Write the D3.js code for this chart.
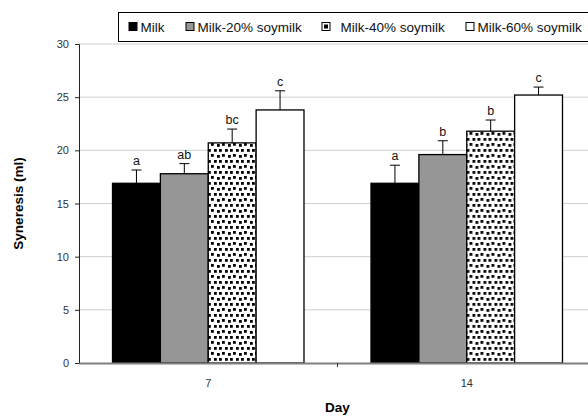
<!DOCTYPE html>
<html>
<head>
<meta charset="utf-8">
<script src="https://cdn.jsdelivr.net/npm/d3@7"></script>
<style>
body{margin:0;background:#fff}
svg{display:block;font-family:"Liberation Sans",Arial,sans-serif}
</style>
</head>
<body>
<div id="chart"></div>
<script>
var days = ['7','14']
var series = ['Milk','Milk-20% soymilk','Milk-40% soymilk','Milk-60% soymilk']
var means = [[16.9,17.8,20.7,23.8],[16.9,19.6,21.8,25.2]]
var errors = [[1.25,0.95,1.3,1.8],[1.7,1.3,1.05,0.75]]
var letters = [['a','ab','bc','c'],['a','b','b','c']]
var yTicks = [0,5,10,15,20,25,30]

var W = 588, H = 419
var m = {top:44, left:79, bottom:56}
var plotW = 517
var plotH = H - m.top - m.bottom

var svg = d3.select('#chart').append('svg').attr('width',W).attr('height',H)

var defs = svg.append('defs')
var pat = defs.append('pattern')
	.attr('id','dots')
	.attr('patternUnits','userSpaceOnUse')
	.attr('width',11).attr('height',11)
pat.append('rect').attr('width',11).attr('height',11).attr('fill','#fff')
;[[0,0],[6,1],[3,6],[8,6]].forEach(function(p){
	pat.append('rect').attr('x',p[0]).attr('y',p[1]).attr('width',2.8).attr('height',2.8).attr('fill','#000')
})
var fills = ['#000','#969696','url(#dots)','#fff']

var x = d3.scaleBand().domain(days).range([m.left, m.left+plotW])
var xs = d3.scaleBand().domain(series).range([0, x.bandwidth()]).paddingOuter(0.7).paddingInner(0)
var y = d3.scaleLinear().domain([0,30]).range([m.top+plotH, m.top])

// gridlines
svg.append('g').selectAll('line').data(yTicks.slice(1)).enter().append('line')
	.attr('x1',m.left).attr('x2',m.left+plotW)
	.attr('y1',function(d){return y(d)}).attr('y2',function(d){return y(d)})
	.attr('stroke','#cfcfcf').attr('stroke-width',1)

// y axis
var yAxis = svg.append('g')
	.attr('transform','translate('+m.left+',0)')
	.call(d3.axisLeft(y).tickValues(yTicks).tickSize(4).tickPadding(6))
yAxis.select('.domain').attr('stroke','#222')
yAxis.selectAll('.tick line').attr('stroke','#222')
yAxis.selectAll('text').attr('fill','#333').style('font-size','11px')

// bars
var groups = svg.append('g').selectAll('g').data(days).enter().append('g')
	.attr('transform',function(d){return 'translate('+x(d)+',0)'})

groups.each(function(day,gi){
	var g = d3.select(this)
	series.forEach(function(s,si){
		var v = means[gi][si], e = errors[gi][si]
		var cx = xs(s) + xs.bandwidth()/2
		g.append('line')
			.attr('x1',cx).attr('x2',cx)
			.attr('y1',y(v)).attr('y2',y(v+e))
			.attr('stroke','#000').attr('stroke-width',1)
		g.append('line')
			.attr('x1',cx-5).attr('x2',cx+5)
			.attr('y1',y(v+e)).attr('y2',y(v+e))
			.attr('stroke','#000').attr('stroke-width',1)
		g.append('rect')
			.attr('x',xs(s)).attr('y',y(v))
			.attr('width',xs.bandwidth()).attr('height',y(0)-y(v))
			.attr('fill',fills[si])
			.attr('stroke','#000').attr('stroke-width',1.3)
		g.append('text')
			.attr('x',cx).attr('y',y(v+e)-5)
			.attr('text-anchor','middle')
			.style('font-size','12.5px')
			.attr('fill','#111')
			.text(letters[gi][si])
	})
})

// x axis
var xAxis = svg.append('g')
	.attr('transform','translate(0,'+y(0)+')')
	.call(d3.axisBottom(x).tickSize(0).tickPadding(16))
xAxis.select('.domain').attr('stroke','#808080').attr('stroke-width',2)
xAxis.selectAll('text').attr('fill','#333').style('font-size','11px')
svg.append('line')
	.attr('x1',x('14')).attr('x2',x('14'))
	.attr('y1',y(0)).attr('y2',y(0)+4)
	.attr('stroke','#333')

// axis titles
svg.append('text')
	.attr('transform','translate(23,'+(m.top+plotH/2)+') rotate(-90)')
	.attr('text-anchor','middle')
	.style('font-size','13.5px').style('font-weight','bold')
	.text('Syneresis (ml)')
svg.append('text')
	.attr('x',x('14')).attr('y',412)
	.attr('text-anchor','middle')
	.style('font-size','13.5px').style('font-weight','bold')
	.text('Day')

// legend
svg.append('rect')
	.attr('x',118.5).attr('y',12.5).attr('width',480).attr('height',29)
	.attr('fill','#fff').attr('stroke','#000')
var leg = svg.append('g')
var legX = [129,186,322,466]
series.forEach(function(s,i){
	leg.append('rect')
		.attr('x',legX[i]).attr('y',22.5).attr('width',8).attr('height',8)
		.attr('fill',i===2 ? '#fff' : fills[i]).attr('stroke','#000').attr('stroke-width',1)
	if (i===2) {
		leg.append('rect').attr('x',legX[i]+2).attr('y',24.5).attr('width',4).attr('height',4).attr('fill','#000')
	}
	leg.append('text')
		.attr('x',legX[i]+ (i===2 ? 18.5 : 11.5)).attr('y',31.5)
		.style('font-size','13.5px').attr('fill','#111')
		.text(s)
})
</script>
</body>
</html>
